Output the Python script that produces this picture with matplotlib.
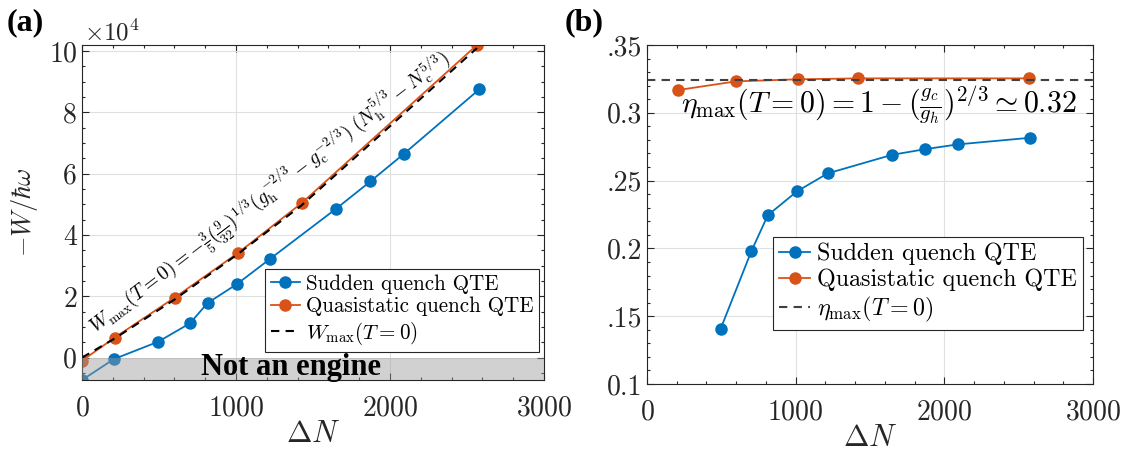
import matplotlib
matplotlib.use("Agg")
import matplotlib.pyplot as plt
from matplotlib.ticker import MultipleLocator, FuncFormatter, FixedLocator, FixedFormatter

plt.rcParams['font.family'] = 'cmr10'
plt.rcParams['mathtext.fontset'] = 'cm'
plt.rcParams['axes.formatter.use_mathtext'] = True

# panel (a): work vs Delta N
dn_sudden = [0, 206, 495, 701, 815, 1009, 1218, 1648, 1873, 2093, 2579]
w_sudden = [-7300, -500, 5200, 11200, 17800, 24100, 32100, 48500, 57500, 66600, 87500]
dn_quasi = [0, 211, 602, 1012, 1426, 2565]
w_quasi = [-1000, 6500, 19600, 34100, 50400, 102000]
dn_wmax = [0, 211, 602, 1012, 1426, 1900, 2565]
w_wmax = [0, 6200, 19000, 33800, 49700, 71000, 101000]

# panel (b): efficiency vs Delta N
dn_sudden_b = [496, 702, 813, 1008, 1215, 1648, 1872, 2090, 2579]
eta_sudden = [0.1408, 0.1979, 0.2245, 0.2420, 0.2553, 0.2690, 0.2732, 0.2767, 0.2816]
dn_quasi_b = [209, 601, 1013, 1422, 2572]
eta_quasi = [0.3168, 0.3232, 0.3247, 0.3254, 0.3254]
eta_max = 0.3244

yticks_b = [0.1, 0.15, 0.2, 0.25, 0.3, 0.35]
yticklabels_b = ['0.1', '.15', '0.2', '.25', '0.3', '.35']

blue = '#0072BD'
orange = '#D95319'
axc = '#262626'


def style(ax, xminor, yminor):
    ax.tick_params(which='both', direction='in', top=True, right=True, colors=axc, labelsize=20)
    ax.tick_params(which='major', length=5, width=0.8)
    ax.tick_params(which='minor', length=2.5, width=0.8)
    ax.tick_params(axis='x', which='major', pad=11)
    ax.xaxis.set_minor_locator(MultipleLocator(xminor))
    ax.yaxis.set_minor_locator(MultipleLocator(yminor))
    ax.grid(True, which='major', color='#e0e0e0', lw=0.8)
    ax.set_axisbelow(True)
    for s in ax.spines.values():
        s.set_color(axc)
        s.set_linewidth(0.8)


fig = plt.figure(figsize=(11.22, 4.51), dpi=100)
ax1 = fig.add_axes([0.0731, 0.1574, 0.4117, 0.7428])
ax2 = fig.add_axes([0.5766, 0.1486, 0.3976, 0.7516])

# ---- (a)
ax1.plot(dn_sudden, w_sudden, '-o', color=blue, lw=1.3, ms=8, label='Sudden quench QTE')
ax1.plot(dn_quasi, w_quasi, '-o', color=orange, lw=1.3, ms=8, label='Quasistatic quench QTE')
ax1.plot(dn_wmax, w_wmax, '--', color='black', lw=1.5, dashes=(4, 3), label=r'$W_{\rm max}(T=0)$')
ax1.set_xlim(0, 3000)
ax1.set_ylim(-7300, 102000)
ax1.axhspan(-7300, 0, color='#9a9a9a', alpha=0.45, lw=0, zorder=3)
ax1.text(1357, -3300, 'Not an engine', family='Liberation Serif', weight='bold',
         fontsize=22, ha='center', va='center', zorder=4)
ax1.xaxis.set_major_locator(MultipleLocator(1000))
ax1.yaxis.set_major_locator(MultipleLocator(20000))
ax1.yaxis.set_major_formatter(FuncFormatter(lambda v, p: '%d' % round(v / 1e4)))
style(ax1, 200, 5000)
ax1.text(0.005, 1.0, r'$\times 10^4$', transform=ax1.transAxes, fontsize=18,
         ha='left', va='bottom', color=axc)
ax1.set_xlabel(r'$\Delta N$', fontsize=22, color=axc, labelpad=-1)
ax1.set_ylabel(r'$-W/\hbar\omega$', fontsize=19, color=axc, labelpad=7)
ax1.text(130, 5000,
         r'$W_{\rm max}(T=0)=-\frac{3}{5}(\frac{9}{32})^{1/3}(g_{\rm h}^{-2/3}-g_{\rm c}^{-2/3})\ (N_{\rm h}^{5/3}-N_{\rm c}^{5/3})$',
         rotation=37.5, rotation_mode='anchor', fontsize=14, ha='left', va='bottom')
leg1 = ax1.legend(loc='lower right', bbox_to_anchor=(0.99, 0.084), fontsize=15.2,
                  fancybox=False, edgecolor=axc, framealpha=1, borderpad=0.25,
                  handlelength=1.4, handletextpad=0.3, labelspacing=0.15, borderaxespad=0)
leg1.get_frame().set_linewidth(0.8)
leg1.set_zorder(5)
fig.text(0.006, 0.95, '(a)', family='Liberation Serif', weight='bold', fontsize=23,
         ha='left', va='center')

# ---- (b)
ax2.plot(dn_sudden_b, eta_sudden, '-o', color=blue, lw=1.3, ms=8, label='Sudden quench QTE')
ax2.plot(dn_quasi_b, eta_quasi, '-o', color=orange, lw=1.3, ms=8, label='Quasistatic quench QTE')
ax2.axhline(eta_max, color='#404040', ls='--', lw=1.5, dashes=(4, 3), label=r'$\eta_{\rm max}(T=0)$')
ax2.set_xlim(0, 3000)
ax2.set_ylim(0.1, 0.35)
ax2.xaxis.set_major_locator(MultipleLocator(1000))
ax2.yaxis.set_major_locator(FixedLocator(yticks_b))
ax2.yaxis.set_major_formatter(FixedFormatter(yticklabels_b))
style(ax2, 200, 0.01)
ax2.set_xlabel(r'$\Delta N$', fontsize=22, color=axc, labelpad=-1)
ax2.text(230, 0.306, r'$\eta_{\rm max}(T=0)=1-(\frac{g_c}{g_h})^{2/3}\simeq 0.32$',
         fontsize=21.5, ha='left', va='center')
leg2 = ax2.legend(loc='lower right', bbox_to_anchor=(0.978, 0.159), fontsize=17.3,
                  fancybox=False, edgecolor=axc, framealpha=1, borderpad=0.25,
                  handlelength=1.3, handletextpad=0.3, labelspacing=0.15, borderaxespad=0)
leg2.get_frame().set_linewidth(0.8)
fig.text(0.503, 0.95, '(b)', family='Liberation Serif', weight='bold', fontsize=23,
         ha='left', va='center')

fig.savefig('out.png', dpi=100)
